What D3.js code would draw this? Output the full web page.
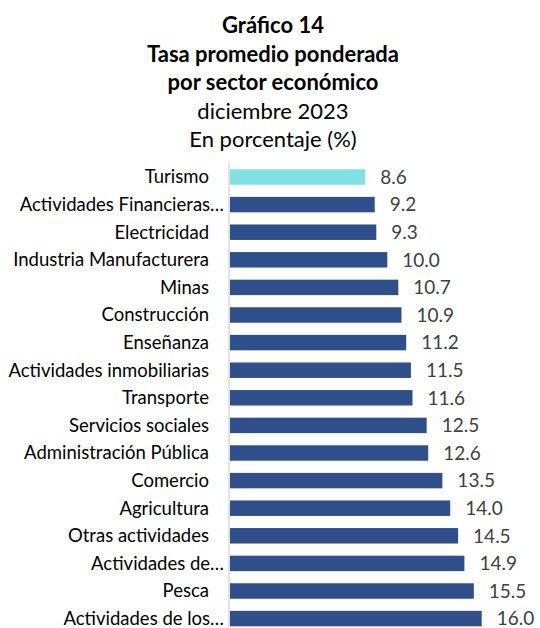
<!DOCTYPE html>
<html><head><meta charset="utf-8">
<script src="https://cdn.jsdelivr.net/npm/d3@7"></script>
<style>
html,body{margin:0;padding:0;background:#fff;}
svg{display:block;font-family:Lato,"Open Sans",sans-serif;}
</style></head>
<body>
<svg id="chart" width="540" height="628"></svg>
<script>
const titleLines = ["Gráfico 14","Tasa promedio ponderada","por sector económico","diciembre 2023","En porcentaje (%)"];
const titleBold = [true,true,true,false,false];
const categories = ["Turismo","Actividades Financieras...","Electricidad","Industria Manufacturera","Minas","Construcción","Enseñanza","Actividades inmobiliarias","Transporte","Servicios sociales","Administración Pública","Comercio","Agricultura","Otras actividades","Actividades de...","Pesca","Actividades de los..."];
const values = [8.6,9.2,9.3,10.0,10.7,10.9,11.2,11.5,11.6,12.5,12.6,13.5,14.0,14.5,14.9,15.5,16.0];
const highlight = ["Turismo"];

const svg = d3.select("#chart");
const x0 = 230;
const x = d3.scaleLinear().domain([0,16]).range([x0, 481.7]);
const y = d3.scaleBand().domain(categories).range([163.2, 163.2 + 27.6*17]).paddingInner(0.44).paddingOuter(0.22);

// title
const tBase = [33,62,90,119,147];
svg.append("g").selectAll("text").data(titleLines).join("text")
  .attr("x",273).attr("y",(d,i)=>tBase[i])
  .attr("text-anchor","middle")
  .attr("font-size",22)
  .attr("font-weight",(d,i)=>titleBold[i]?"bold":"normal")
  .attr("fill","#000")
  .text(d=>d);

// axis line
svg.append("line").attr("x1",229).attr("x2",229).attr("y1",163).attr("y2",628)
  .attr("stroke","#d9d9d9").attr("stroke-width",1.5);

// bars
svg.append("g").selectAll("rect").data(values).join("rect")
  .attr("x",x(0)).attr("y",(d,i)=>y(categories[i]))
  .attr("width",d=>x(d)-x(0)).attr("height",y.bandwidth())
  .attr("fill",(d,i)=>highlight.includes(categories[i])?"#7fe0e6":"#2e4f8a");

// category labels
svg.append("g").selectAll("text").data(categories).join("text")
  .attr("x",d=>d.endsWith("...")?224:209)
  .attr("y",d=>y(d)+y.bandwidth()/2)
  .attr("dy","0.35em")
  .attr("text-anchor","end")
  .attr("font-size",18.5)
  .attr("fill","#000")
  .text(d=>d.endsWith("...")?d.slice(0,-3)+"…":d);

// value labels
svg.append("g").selectAll("text").data(values).join("text")
  .attr("x",d=>x(d)+15)
  .attr("y",(d,i)=>y(categories[i])+y.bandwidth()/2)
  .attr("dy","0.36em")
  .attr("font-size",19)
  .attr("fill","#404040")
  .text(d=>d.toFixed(1));
</script>
</body></html>
